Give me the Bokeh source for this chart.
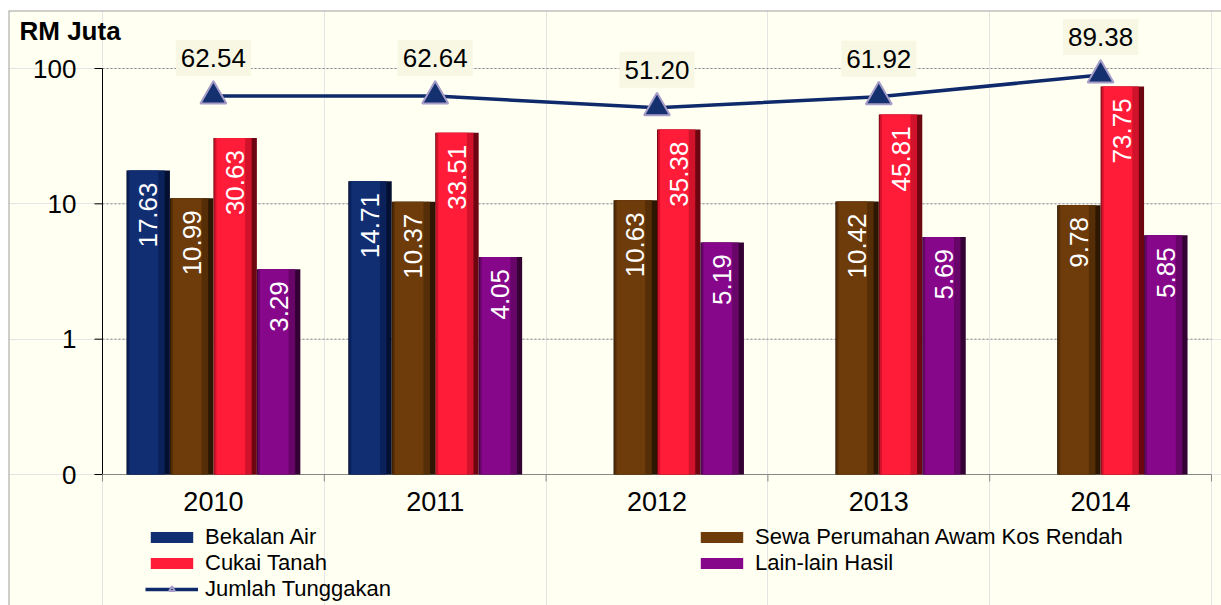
import math
from bokeh.plotting import figure
from bokeh.models import (ColumnDataSource, Legend, LegendItem, Label, Span)
from bokeh.core.properties import value
from bokeh.embed import file_html
from bokeh.resources import INLINE

# ---------------- data ----------------
years = ["2010", "2011", "2012", "2013", "2014"]
bekalan_air = [17.63, 14.71, None, None, None]
sewa = [10.99, 10.37, 10.63, 10.42, 9.78]
cukai = [30.63, 33.51, 35.38, 45.81, 73.75]
lain = [3.29, 4.05, 5.19, 5.69, 5.85]
jumlah = [62.54, 62.64, 51.20, 61.92, 89.38]
y_ticks = [0.1, 1, 10, 100]
y_tick_labels = ["0", "1", "10", "100"]
grid_ticks = [1, 10, 100]
unit_label = "RM Juta"
series_names = ["Bekalan Air", "Sewa Perumahan Awam Kos Rendah", "Cukai Tanah", "Lain-lain Hasil"]
line_name = "Jumlah Tunggakan"

# ---------------- layout constants (pixels) ----------------
FONT = "Liberation Sans"
BG = "#FFFFF2"
WIDTH, HEIGHT = 1221, 605
FR_L, FR_T = 8, 10                 # frame (chart area) origin
AX_L, AX_R = 102, 1211             # pixel x of category 0 and 5
Y_TOP_PX, Y_BOT_PX = 68, 474       # pixel y of 100 and 0.1
ncat = len(years)
px_per_x = (AX_R - AX_L) / ncat
px_per_dec = (Y_BOT_PX - Y_TOP_PX) / 3.0
x_start = -(AX_L - FR_L) / px_per_x
x_end = ncat + (WIDTH - AX_R) / px_per_x
y_start = 10 ** (-1 - (HEIGHT - Y_BOT_PX) / px_per_dec)
y_end = 10 ** (2 + (Y_TOP_PX - FR_T) / px_per_dec)

centers = [i + 0.5 for i in range(ncat)]
bounds = list(range(ncat + 1))
W = 0.196
offsets = [-1.5 * W, -0.5 * W, 0.5 * W, 1.5 * W]
colors = [
    ("#050F30", "#0A215A", "#112E73"),
    ("#2E1702", "#552D06", "#6E3B0B"),
    ("#6E0612", "#D0132A", "#FF1C38"),
    ("#340134", "#680568", "#86078A"),
]
BASE = min(y_ticks)

p = figure(width=WIDTH, height=HEIGHT, y_axis_type="log",
           x_range=(x_start, x_end), y_range=(y_start, y_end),
           x_axis_location=None, y_axis_location=None,
           output_backend="svg", toolbar_location=None,
           min_border_left=FR_L, min_border_top=FR_T,
           min_border_right=0, min_border_bottom=0)
p.background_fill_color = BG
p.border_fill_color = "white"
p.outline_line_color = None
p.add_layout(Span(location=x_start, dimension="height", line_color="#A0A0A0", line_width=2))
p.add_layout(Span(location=y_end, dimension="width", line_color="#A0A0A0", line_width=2))

# grid lines
p.segment(x0=[0] * len(grid_ticks), x1=[ncat] * len(grid_ticks), y0=grid_ticks, y1=grid_ticks,
          line_color="#8a8a8a", line_dash="2 2", line_width=1)

# y axis (log)
p.segment(x0=[0], x1=[0], y0=[BASE], y1=[max(y_ticks)], line_color="black", line_width=1)
tick_dx = 8 / px_per_x
p.segment(x0=[-tick_dx] * len(y_ticks), x1=[0] * len(y_ticks), y0=y_ticks, y1=y_ticks,
          line_color="black", line_width=1)
p.text(x=[0] * len(y_ticks), y=y_ticks, text=y_tick_labels, x_offset=-26,
       text_align="right", text_baseline="middle", text_color="black",
       text_font=value(FONT), text_font_size="26px")

# x axis (category)
p.segment(x0=[0], x1=[ncat], y0=[BASE], y1=[BASE], line_color="#888888", line_width=1)
tick_y = BASE * 10 ** (-7 / px_per_dec)
p.segment(x0=bounds, x1=bounds, y0=[BASE] * len(bounds), y1=[tick_y] * len(bounds),
          line_color="#888888", line_width=1)
p.text(x=centers, y=[BASE] * ncat, text=years, y_offset=27,
       text_align="center", text_baseline="middle", text_color="black",
       text_font=value(FONT), text_font_size="27px")

# unit title
p.text(x=[0], y=[max(y_ticks)], text=[unit_label], x_offset=-83, y_offset=-38,
       text_align="left", text_baseline="middle", text_color="black",
       text_font=value(FONT), text_font_size="26px", text_font_style="bold")

# bars
legend_renderers = []
all_series = [bekalan_air, sewa, cukai, lain]
for k, vals in enumerate(all_series):
    xs = [c + offsets[k] for c, v in zip(centers, vals) if v is not None]
    tops = [v for v in vals if v is not None]
    dark, mid, main = colors[k]
    src = ColumnDataSource(dict(x=xs, top=tops, lab=[f"{v:.2f}" for v in tops]))
    p.vbar(x="x", top="top", bottom=BASE, width=W, source=src,
           fill_color=dark, line_color=None)
    src2 = ColumnDataSource(dict(x=[x - 0.05 * W for x in xs], top=tops))
    p.vbar(x="x", top="top", bottom=BASE, width=W * 0.86, source=src2,
           fill_color=mid, line_color=None)
    src3 = ColumnDataSource(dict(x=[x - 0.1 * W for x in xs], top=tops))
    r_main = p.vbar(x="x", top="top", bottom=BASE, width=W * 0.66, source=src3,
                    fill_color=main, line_color=None)
    p.text(x="x", y="top", text="lab", source=src, angle=math.pi / 2,
           text_align="right", text_baseline="middle", y_offset=12,
           text_color="white", text_font=value(FONT), text_font_size="26px")
    legend_renderers.append(r_main)

# total line
lsrc = ColumnDataSource(dict(x=centers, y=jumlah))
lr = p.line(x="x", y="y", source=lsrc, line_color="#0F2A6B", line_width=3.5)
sr = p.scatter(x="x", y="y", source=lsrc, marker="triangle", size=26,
               fill_color="#15306E", line_color="#A59CC8", line_width=2)
for xc, v in zip(centers, jumlah):
    p.add_layout(Label(x=xc, y=v, text=f"{v:.2f}", y_offset=38,
                       text_align="center", text_baseline="middle",
                       text_font=FONT, text_font_size="26px", text_color="black",
                       background_fill_color="#F7F7E4", padding=(5, 9)))

# legend
items = [
    LegendItem(label=series_names[0], renderers=[legend_renderers[0]]),
    LegendItem(label=series_names[1], renderers=[legend_renderers[1]]),
    LegendItem(label=series_names[2], renderers=[legend_renderers[2]]),
    LegendItem(label=series_names[3], renderers=[legend_renderers[3]]),
    LegendItem(label=line_name, renderers=[lr, sr]),
]
legend = Legend(items=items, ncols=2, orientation="horizontal",
                location=(145 - FR_L, 3),
                glyph_width=53, glyph_height=14, label_width=490, label_height=20,
                label_standoff=7, spacing=0, padding=0, margin=0,
                label_text_font=FONT, label_text_font_size="22px",
                label_text_color="black",
                background_fill_alpha=0, border_line_color=None)
p.add_layout(legend, "center")

open("out.html", "w").write(file_html(p, INLINE))
